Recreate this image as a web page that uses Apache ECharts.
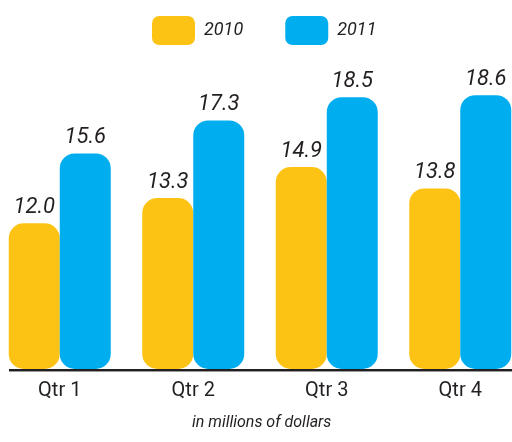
<!DOCTYPE html>
<html>
<head>
<meta charset="utf-8">
<script src="https://cdn.jsdelivr.net/npm/echarts@6/dist/echarts.min.js"></script>
<style>
  html, body { margin: 0; padding: 0; background: #fff; }
  #main { width: 512px; height: 442px; }
</style>
</head>
<body>
<div id="main"></div>
<script>
const quarters = ["Qtr 1", "Qtr 2", "Qtr 3", "Qtr 4"];
const sales2010 = [12.0, 13.3, 14.9, 13.8];
const sales2011 = [15.6, 17.3, 18.5, 18.6];
const unitNote = "in millions of dollars";

const font = "Roboto, 'Liberation Sans', Arial, sans-serif";
const textColor = "#231f20";
const yellow = "#fdc314";
const blue = "#00aeef";

const chart = echarts.init(document.getElementById("main"));

// bars share one look, only the colour changes
function barSeries(name, data, color) {
  return {
    name: name,
    type: "bar",
    data: data,
    barWidth: 51,
    barGap: "0%",
    itemStyle: { color: color, borderRadius: 15 },
    label: {
      show: true,
      position: "top",
      distance: 5,
      formatter: p => p.value.toFixed(1),
      color: textColor,
      fontFamily: font,
      fontStyle: "italic",
      fontSize: 22
    }
  };
}

chart.setOption({
  animation: false,
  legend: {
    top: 11,
    left: 147,
    itemWidth: 43,
    itemHeight: 29,
    itemGap: 42,
    icon: "roundRect",
    textStyle: {
      color: textColor,
      fontFamily: font,
      fontStyle: "italic",
      fontSize: 18,
      padding: [0, 0, 0, 4]
    },
    data: ["2010", "2011"]
  },
  grid: { left: -7, width: 534, top: 68, bottom: 73, outerBoundsMode: "none", containLabel: false },
  xAxis: {
    type: "category",
    data: quarters,
    axisLine: { show: false },
    axisTick: { show: false },
    axisLabel: {
      margin: 12,
      color: textColor,
      fontFamily: font,
      fontSize: 20
    }
  },
  yAxis: {
    type: "value",
    min: 4.5,
    max: 20,
    show: false,
    splitLine: { show: false }
  },
  series: [
    barSeries("2010", sales2010, yellow),
    barSeries("2011", sales2011, blue)
  ],
  graphic: [
    {
      type: "line",
      shape: { x1: 9, y1: 370, x2: 512, y2: 370 },
      style: { stroke: "#231f20", lineWidth: 2 }
    },
    {
      type: "line",
      shape: { x1: 9, y1: 371.5, x2: 512, y2: 371.5 },
      style: { stroke: "#9a9a9a", lineWidth: 1 }
    },
    {
      type: "text",
      left: 192,
      top: 415,
      style: {
        text: unitNote,
        fill: textColor,
        font: "italic 16px " + font
      }
    }
  ]
});
</script>
</body>
</html>
